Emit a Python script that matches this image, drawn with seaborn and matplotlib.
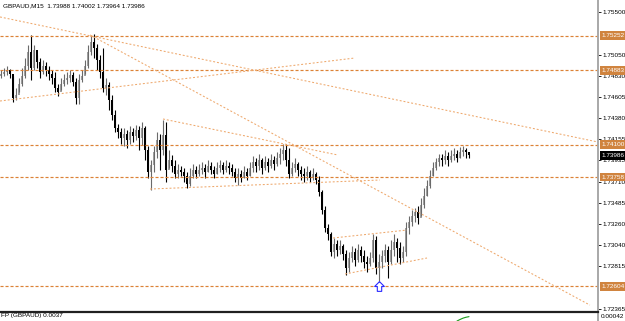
import numpy as np
import pandas as pd
import matplotlib
matplotlib.use("Agg")
import matplotlib.pyplot as plt
import matplotlib.transforms as mtransforms
import seaborn as sns

# GBPAUD M15 candles (open of each bar = close of previous bar)
first_open = 1.74825
close = [
    1.74846, 1.74867, 1.74888, 1.74846, 1.74592, 1.74624, 1.74740, 1.74825, 1.74930, 1.75078,
    1.74909, 1.75099, 1.74973, 1.74867, 1.74930, 1.74888, 1.74846, 1.74804, 1.74698, 1.74656,
    1.74740, 1.74782, 1.74804, 1.74835, 1.74761, 1.74592, 1.74782, 1.74825, 1.74930, 1.75078,
    1.75184, 1.75120, 1.74994, 1.74867, 1.74698, 1.74730, 1.74571, 1.74413, 1.74276, 1.74234,
    1.74170, 1.74212, 1.74149, 1.74234, 1.74191, 1.74255, 1.74170, 1.74276, 1.74044, 1.73811,
    1.73885, 1.74022, 1.74149, 1.74044, 1.74202, 1.73833, 1.73938, 1.73875, 1.73790, 1.73833,
    1.73811, 1.73769, 1.73685, 1.73769, 1.73833, 1.73790, 1.73833, 1.73854, 1.73811, 1.73875,
    1.73833, 1.73790, 1.73854, 1.73885, 1.73833, 1.73875, 1.73854, 1.73811, 1.73748, 1.73790,
    1.73748, 1.73811, 1.73769, 1.73854, 1.73917, 1.73875, 1.73938, 1.73854, 1.73917, 1.73875,
    1.73938, 1.73896, 1.73959, 1.74001, 1.74044, 1.73938, 1.73790, 1.73854, 1.73896, 1.73833,
    1.73790, 1.73769, 1.73811, 1.73748, 1.73790, 1.73727, 1.73600, 1.73410, 1.73220, 1.73157,
    1.72967, 1.73051, 1.72988, 1.73030, 1.72946, 1.72798, 1.72904, 1.72967, 1.72882, 1.72988,
    1.72925, 1.72861, 1.72840, 1.72904, 1.73094, 1.72798, 1.72861, 1.72925, 1.72988, 1.72861,
    1.72988, 1.73072, 1.73009, 1.72904, 1.72967, 1.73220, 1.73284, 1.73347, 1.73389, 1.73326,
    1.73463, 1.73558, 1.73664, 1.73769, 1.73854, 1.73917, 1.73959, 1.73938, 1.73980, 1.73938,
    1.73980, 1.74001, 1.73959, 1.74022, 1.74044, 1.74022, 1.73986]
high = [
    1.74888, 1.74909, 1.74930, 1.74899, 1.74825, 1.74698, 1.74804, 1.74909, 1.75015, 1.75152,
    1.75258, 1.75152, 1.75046, 1.75015, 1.74994, 1.74973, 1.74930, 1.74888, 1.74867, 1.74740,
    1.74804, 1.74846, 1.74867, 1.74888, 1.74867, 1.74804, 1.74846, 1.74888, 1.74994, 1.75152,
    1.75247, 1.75268, 1.75163, 1.75046, 1.75120, 1.74804, 1.74761, 1.74624, 1.74466, 1.74318,
    1.74276, 1.74276, 1.74255, 1.74297, 1.74276, 1.74307, 1.74297, 1.74339, 1.74297, 1.74086,
    1.73938, 1.74086, 1.74234, 1.74212, 1.74360, 1.74339, 1.74044, 1.73991, 1.73938, 1.73896,
    1.73875, 1.73854, 1.73811, 1.73854, 1.73896, 1.73875, 1.73896, 1.73917, 1.73896, 1.73938,
    1.73917, 1.73875, 1.73917, 1.73938, 1.73917, 1.73938, 1.73917, 1.73896, 1.73854, 1.73854,
    1.73833, 1.73875, 1.73854, 1.73917, 1.73980, 1.73959, 1.74001, 1.73959, 1.73980, 1.73959,
    1.74001, 1.73980, 1.74022, 1.74065, 1.74107, 1.74107, 1.74065, 1.73917, 1.73959, 1.73917,
    1.73875, 1.73854, 1.73875, 1.73833, 1.73854, 1.73811, 1.73769, 1.73621, 1.73452, 1.73262,
    1.73178, 1.73115, 1.73094, 1.73094, 1.73051, 1.72988, 1.72967, 1.73030, 1.73009, 1.73051,
    1.73030, 1.72988, 1.72925, 1.72967, 1.73157, 1.73136, 1.72946, 1.72988, 1.73051, 1.73030,
    1.73094, 1.73157, 1.73115, 1.73072, 1.73030, 1.73284, 1.73347, 1.73410, 1.73431, 1.73452,
    1.73537, 1.73642, 1.73727, 1.73833, 1.73917, 1.73959, 1.74001, 1.74001, 1.74044, 1.74022,
    1.74044, 1.74065, 1.74044, 1.74075, 1.74086, 1.74065, 1.74002]
low = [
    1.74804, 1.74825, 1.74835, 1.74804, 1.74550, 1.74571, 1.74656, 1.74719, 1.74804, 1.74888,
    1.74782, 1.74888, 1.74909, 1.74804, 1.74846, 1.74825, 1.74782, 1.74740, 1.74656, 1.74614,
    1.74677, 1.74719, 1.74740, 1.74761, 1.74719, 1.74529, 1.74529, 1.74761, 1.74846, 1.74909,
    1.75046, 1.75015, 1.74888, 1.74804, 1.74656, 1.74624, 1.74466, 1.74360, 1.74234, 1.74170,
    1.74107, 1.74086, 1.74065, 1.74107, 1.74128, 1.74149, 1.74044, 1.74096, 1.73938, 1.73748,
    1.73621, 1.73811, 1.73959, 1.73833, 1.73991, 1.73706, 1.73854, 1.73811, 1.73748, 1.73748,
    1.73769, 1.73706, 1.73642, 1.73664, 1.73748, 1.73748, 1.73769, 1.73790, 1.73748, 1.73811,
    1.73790, 1.73748, 1.73790, 1.73811, 1.73790, 1.73811, 1.73790, 1.73769, 1.73706, 1.73674,
    1.73706, 1.73748, 1.73727, 1.73769, 1.73811, 1.73811, 1.73833, 1.73790, 1.73833, 1.73811,
    1.73854, 1.73833, 1.73875, 1.73896, 1.73938, 1.73875, 1.73748, 1.73769, 1.73811, 1.73769,
    1.73727, 1.73706, 1.73727, 1.73706, 1.73727, 1.73685, 1.73558, 1.73368, 1.73178, 1.73094,
    1.72925, 1.72904, 1.72925, 1.72946, 1.72882, 1.72724, 1.72756, 1.72861, 1.72819, 1.72861,
    1.72861, 1.72798, 1.72756, 1.72819, 1.72861, 1.72735, 1.72650, 1.72798, 1.72861, 1.72692,
    1.72840, 1.72925, 1.72861, 1.72840, 1.72861, 1.72925, 1.73157, 1.73241, 1.73284, 1.73262,
    1.73347, 1.73431, 1.73558, 1.73642, 1.73769, 1.73833, 1.73875, 1.73875, 1.73896, 1.73875,
    1.73917, 1.73938, 1.73917, 1.73959, 1.73980, 1.73959, 1.73964]

last_ohlc = [1.73988, 1.74002, 1.73964, 1.73986]

# horizontal levels
levels = [1.75252, 1.74883, 1.74100, 1.73758, 1.72604]

# trend lines: (bar0, price0, bar1, price1)
trend_lines = [
    (-0.33, 1.75448, 199.0, 1.74128),
    (29.7, 1.75258, 196.3, 1.72407),
    (-0.33, 1.74561, 118.0, 1.75015),
    (54.0, 1.74371, 112.3, 1.73991),
    (49.7, 1.73632, 126.3, 1.73727),
    (110.7, 1.73115, 135.3, 1.73199),
    (114.7, 1.72735, 142.0, 1.72904),
]

yticks = [1.75500, 1.75050, 1.74830, 1.74605, 1.74380, 1.74155, 1.73935,
          1.73710, 1.73485, 1.73260, 1.73040, 1.72815, 1.72365]

arrow_bar, arrow_price = 126, 1.72608

fp_bars = [152, 153, 154, 155, 156]
fp_vals = [-0.00060, -0.00040, -0.00022, -0.00010, -0.00002]

sns.set_theme(style="white")
plt.rcParams['font.family'] = ['Liberation Sans', 'DejaVu Sans']
plt.rcParams['lines.scale_dashes'] = False
FS = 4.6

W, H = 625, 321
fig = plt.figure(figsize=(W / 100, H / 100), dpi=100, facecolor='white')
ax = fig.add_axes([0, 9 / H, 598 / W, 312 / H])

df = pd.DataFrame({'close': close, 'high': high, 'low': low})
df['open'] = [first_open] + close[:-1]
df['bar'] = np.arange(len(df))
df['bottom'] = df[['open', 'close']].min(axis=1)
df['body'] = (df['close'] - df['open']).abs().clip(lower=0.00008)
up = df['close'] >= df['open']

ax.vlines(df.bar[up], df.low[up], df.high[up], color='#6a6a6a', lw=0.8)
ax.vlines(df.bar[~up], df.low[~up], df.high[~up], color='black', lw=0.8)
ax.bar(df.bar[up], df.body[up], bottom=df.bottom[up], width=0.7,
       color='#a0a0a0', edgecolor='none')
ax.bar(df.bar[~up], df.body[~up], bottom=df.bottom[~up], width=0.7,
       color='black', edgecolor='none')

for lv in levels:
    ax.axhline(lv, color='#dc8236', lw=0.85, ls=(0, (2.2, 1.4)))

for x0, y0, x1, y1 in trend_lines:
    ax.plot([x0, x1], [y0, y1], color='#eea86c', lw=0.75, ls=(0, (1.4, 1.4)))

arrow = [(0, 1), (-1, 0), (-0.45, 0), (-0.45, -1), (0.45, -1), (0.45, 0), (1, 0), (0, 1)]
ax.plot([arrow_bar], [arrow_price], marker=arrow, ms=7, mfc='white',
        mec='#2a2aff', mew=0.8, ls='none')

ax.set_xlim(-1 / 3, 598 / 3 - 1 / 3)
ax.set_ylim(1.72334, 1.75627)
ax.set_xticks([])
ax.yaxis.tick_right()
ax.set_yticks(yticks)
ax.set_yticklabels([f"{t:.5f}" for t in yticks])
ax.tick_params(axis='y', length=2.2, width=0.6, pad=1.2, labelsize=FS,
               colors='black', direction='out', right=True)
for s in ['top', 'left', 'bottom']:
    ax.spines[s].set_visible(False)
ax.spines['right'].set_color('#a8a8a8')
ax.spines['right'].set_linewidth(1.4)

trans = mtransforms.blended_transform_factory(ax.transAxes, ax.transData)
for lv in levels:
    ax.text(1.006, lv, f"{lv:.5f}", transform=trans, ha='left', va='center',
            fontsize=FS, color='white', clip_on=False,
            bbox=dict(boxstyle='square,pad=0.3', fc='#d0843f', ec='none'))
ax.text(1.006, close[-1], f"{close[-1]:.5f}", transform=trans, ha='left',
        va='center', fontsize=FS, color='white', clip_on=False,
        bbox=dict(boxstyle='square,pad=0.3', fc='black', ec='none'))

# indicator sub-window
ax2 = fig.add_axes([0, 0, 598 / W, 9 / H])
ax2.plot(fp_bars, fp_vals, color='#1a9a1a', lw=0.8)
ax2.set_xlim(-1 / 3, 598 / 3 - 1 / 3)
ax2.set_ylim(-0.0006, 0.0006)
ax2.set_xticks([])
ax2.set_yticks([])
ax2.patch.set_alpha(0)
for s in ['left', 'bottom']:
    ax2.spines[s].set_visible(False)
ax2.spines['top'].set_color('#202020')
ax2.spines['top'].set_linewidth(1.6)
ax2.spines['right'].set_color('#a8a8a8')
ax2.spines['right'].set_linewidth(1.4)

fig.text(3 / W, 1 - 6 / H, "GBPAUD,M15  " + " ".join(f"{v:.5f}" for v in last_ohlc),
         fontsize=FS, va='center', ha='left', color='black')
fig.text(1 / W, 1 - 316 / H, "FP (GBPAUD) 0.0037", fontsize=FS,
         va='center', ha='left', color='black')
fig.text(601 / W, 1 - 316 / H, "0.00042", fontsize=FS, va='center',
         ha='left', color='black')

fig.savefig("out.png", dpi=100)
